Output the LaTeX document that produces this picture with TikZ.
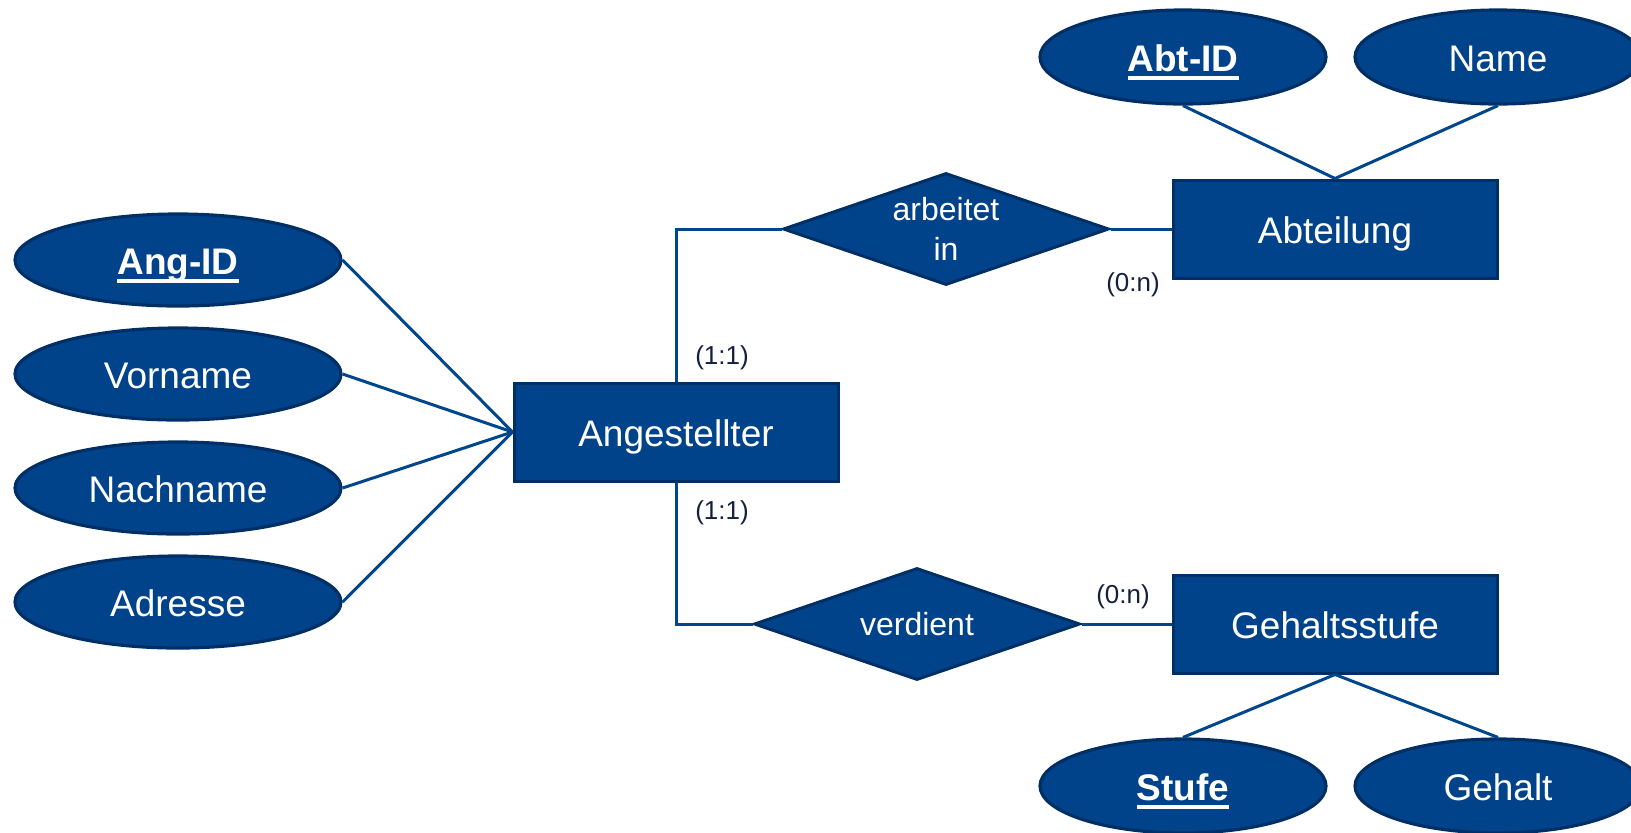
\documentclass[tikz,border=0pt]{standalone}
\usepackage{fontspec}
\setmainfont{Liberation Sans}
\usetikzlibrary{shapes.geometric}
\definecolor{erfill}{HTML}{00438A}
\definecolor{erborder}{HTML}{002F66}
\definecolor{erline}{HTML}{00468C}
\definecolor{cardtext}{HTML}{13213D}
\tikzset{
  oneline/.style={text height=14.2pt, text depth=0pt},
  entity/.style={rectangle, draw=erborder, fill=erfill, line width=1.5pt,
    minimum width=162pt, minimum height=49pt, inner sep=0pt, oneline,
    text=white, font=\fontsize{18.5}{22}\selectfont},
  attrib/.style={ellipse, draw=erborder, fill=erfill, line width=1.6pt,
    inner sep=0pt, oneline, text=white, font=\fontsize{18.5}{22}\selectfont},
  leftattr/.style={attrib, minimum width=163pt, minimum height=46pt},
  rightattr/.style={attrib, minimum width=143pt, minimum height=47pt},
  relation/.style={diamond, draw=erborder, fill=erfill, line width=1.5pt,
    minimum width=163pt, minimum height=56pt, shape aspect=2.86, inner sep=0pt,
    text=white, align=center, font=\fontsize{16}{20}\selectfont},
  link/.style={draw=erline, line width=1.5pt},
  card/.style={text=cardtext, font=\fontsize{13}{15}\selectfont, inner sep=0pt},
}
% bold key attribute with a heavy underline that does not change the text box
\newlength\keylen
\newcommand{\keyattr}[1]{%
  \settowidth{\keylen}{\bfseries #1}%
  \smash{\rlap{\rule[-4.3pt]{\keylen}{1.75pt}}}{\bfseries #1}}
\begin{document}
\begin{tikzpicture}[x=0.5pt,y=-0.5pt]
  \useasboundingbox (0,0) rectangle (1631,832);

  % entities
  \node[entity] (ang) at (676,432) {Angestellter};
  \node[entity] (abt) at (1335,229) {Abteilung};
  \node[entity] (geh) at (1335,624) {Gehaltsstufe};

  % relationships
  \node[relation] (arb) at (946,229) {arbeitet\\in};
  \node[relation] (ver) at (917,624) {verdient};

  % attributes of Angestellter
  \node[leftattr] (angid) at (178,260) {\keyattr{Ang-ID}};
  \node[leftattr] (vorname) at (178,374) {Vorname};
  \node[leftattr] (nachname) at (178,488) {Nachname};
  \node[leftattr] (adresse) at (178,602) {Adresse};

  % attributes of Abteilung
  \node[rightattr] (abtid) at (1183,57) {\keyattr{Abt-ID}};
  \node[rightattr] (name) at (1498,57) {Name};

  % attributes of Gehaltsstufe
  \node[rightattr] (stufe) at (1183,786) {\keyattr{Stufe}};
  \node[rightattr] (gehalt) at (1498,786) {Gehalt};

  % connectors
  \foreach \a in {angid,vorname,nachname,adresse}
    \draw[link] (\a.east) -- (ang.west);
  \draw[link] (abtid.south) -- (abt.north);
  \draw[link] (name.south) -- (abt.north);
  \draw[link] (stufe.north) -- (geh.south);
  \draw[link] (gehalt.north) -- (geh.south);
  \draw[link] (ang.north) |- (arb.west);
  \draw[link] (arb.east) -- (abt.west);
  \draw[link] (ang.south) |- (ver.west);
  \draw[link] (ver.east) -- (geh.west);

  % cardinalities
  \node[card] (c1) at (722,358) {(1:1)};
  \node[card] (c2) at (722,513) {(1:1)};
  \node[card] (c3) at (1133,285) {(0:n)};
  \node[card] (c4) at (1123,597) {(0:n)};
\end{tikzpicture}
\end{document}
